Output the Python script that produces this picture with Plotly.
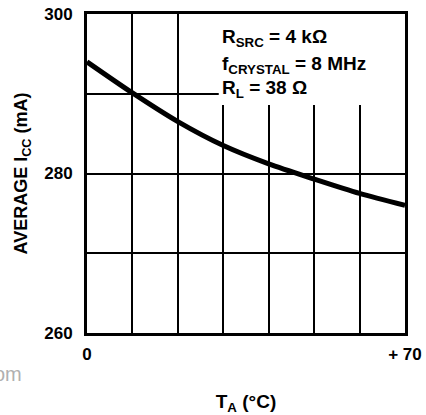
import plotly.graph_objects as go

# Data
temp_c = [0, 10, 20, 30, 40, 50, 60, 70]
icc_ma = [294.0, 290.1, 286.5, 283.5, 281.2, 279.3, 277.5, 276.0]

x_tick_vals = [0, 70]
x_tick_text = ["0", "+ 70"]
y_tick_vals = [260, 280, 300]
y_tick_text = ["260", "280", "300"]

FONT = "Liberation Sans, Arial, sans-serif"
L, R, T, B = 87, 21, 14, 82
W, H = 426, 415
PW = W - L - R
PH = H - T - B

fig = go.Figure()
fig.add_trace(go.Scatter(
    x=temp_c, y=icc_ma, mode="lines",
    line=dict(color="black", width=5, shape="spline", smoothing=0.8),
    hoverinfo="skip", showlegend=False,
))

# white box behind the condition text
fig.add_shape(type="rect", xref="x", yref="y", x0=29.0, x1=70, y0=288.6, y1=300,
              fillcolor="white", line=dict(width=0), layer="between")

ann_font = dict(family=FONT, size=19, color="black")
lines = [
    ("R<sub>SRC</sub> = 4 kΩ", 38),
    ("f<sub>CRYSTAL</sub> = 8 MHz", 65),
    ("R<sub>L</sub> = 38 Ω", 89),
]
for txt, py in lines:
    fig.add_annotation(
        text="<b>" + txt + "</b>", xref="paper", yref="paper",
        x=(220 - L) / PW, y=1 - (py - T) / PH,
        xanchor="left", yanchor="middle", showarrow=False, font=ann_font,
    )

# faint watermark fragment at the left edge
fig.add_annotation(text="om", xref="paper", yref="paper",
                   x=(24 - L) / PW, y=1 - (374 - T) / PH,
                   xanchor="right", yanchor="middle", showarrow=False,
                   font=dict(family=FONT, size=20, color="#b0b0b0"))

axis_common = dict(
    showline=True, linecolor="black", linewidth=3, mirror=True,
    showgrid=True, gridcolor="black", gridwidth=1.5,
    ticks="", zeroline=False,
    tickfont=dict(family=FONT, size=17, color="black", weight="bold"),
)

fig.update_xaxes(
    range=[0, 70], tickvals=x_tick_vals, ticktext=x_tick_text, ticklabelstandoff=4,
    minor=dict(dtick=10, tick0=0, showgrid=True, gridcolor="black", gridwidth=1.5),
    title=dict(text="<b>T<sub>A</sub> (°C)</b>", font=dict(family=FONT, size=19, color="black"),
               standoff=33),
    **axis_common,
)
fig.update_yaxes(
    range=[260, 300], tickvals=y_tick_vals, ticktext=y_tick_text, ticklabelstandoff=8,
    minor=dict(dtick=10, tick0=260, showgrid=True, gridcolor="black", gridwidth=1.5),
    title=dict(text="<b>AVERAGE I<sub>CC</sub> (mA)</b>", font=dict(family=FONT, size=18, color="black"),
               standoff=12),
    **axis_common,
)

fig.update_layout(
    width=W, height=H,
    margin=dict(l=L, r=R, t=T, b=B, autoexpand=False),
    paper_bgcolor="white", plot_bgcolor="white",
    font=dict(family=FONT, color="black"),
)

fig.write_html("out.html", config={"displayModeBar": False},
               post_script="document.body.style.margin='0';")
